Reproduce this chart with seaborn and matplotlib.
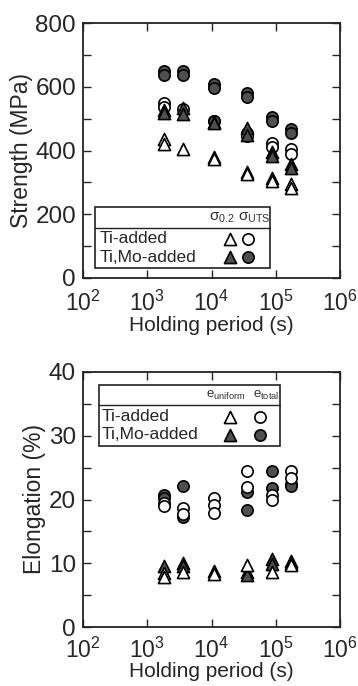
import matplotlib
matplotlib.use('Agg')
import matplotlib.pyplot as plt
import seaborn as sns
import pandas as pd
from matplotlib.ticker import LogLocator, MultipleLocator, NullFormatter, FixedLocator
from matplotlib.patches import Rectangle
from matplotlib.lines import Line2D

sns.set_style('ticks')
plt.rcParams['font.family'] = ['Liberation Sans', 'DejaVu Sans']
plt.rcParams['mathtext.fontset'] = 'custom'
plt.rcParams['mathtext.rm'] = 'Liberation Sans'
plt.rcParams['mathtext.it'] = 'Liberation Sans'

# ---------------- data ----------------
# Strength panel (MPa)
ti_ys_t = [1800, 1800, 3600, 10800, 10800, 36000, 36000, 86400, 86400, 172800, 172800]
ti_ys_v = [435, 420, 404, 381, 372, 333, 326, 313, 305, 295, 281]
ti_uts_t = [1800, 1800, 3600, 10800, 36000, 36000, 86400, 86400, 172800, 172800]
ti_uts_v = [550, 537, 530, 492, 454, 445, 424, 412, 404, 389]
mo_ys_t = [1800, 1800, 3600, 3600, 10800, 10800, 36000, 36000, 86400, 86400, 172800, 172800]
mo_ys_v = [527, 519, 532, 515, 490, 485, 470, 448, 396, 383, 358, 344]
mo_uts_t = [1800, 1800, 3600, 3600, 10800, 10800, 10800, 36000, 36000, 86400, 86400, 172800, 172800]
mo_uts_v = [650, 637, 650, 637, 609, 595, 492, 581, 567, 504, 494, 467, 456]

# Elongation panel (%)
ti_eu_t = [1800, 1800, 3600, 10800, 36000, 86400, 172800, 172800]
ti_eu_v = [8.4, 7.9, 8.7, 8.3, 9.7, 8.7, 10.0, 9.7]
mo_eu_t = [1800, 3600, 3600, 10800, 36000, 36000, 86400, 86400, 172800]
mo_eu_v = [9.6, 10.0, 9.5, 8.8, 8.6, 8.2, 10.6, 9.9, 10.3]
ti_et_t = [1800, 1800, 3600, 3600, 10800, 10800, 10800, 36000, 36000, 86400, 86400, 172800, 172800]
ti_et_v = [19.5, 19.0, 18.6, 17.8, 20.2, 19.1, 17.9, 24.5, 21.9, 20.7, 20.0, 24.4, 23.3]
mo_et_t = [1800, 1800, 3600, 3600, 36000, 36000, 86400, 86400, 172800, 172800]
mo_et_v = [20.7, 20.2, 22.1, 17.2, 21.1, 18.4, 24.4, 21.8, 22.5, 22.1]

xtick_vals = [1e2, 1e3, 1e4, 1e5, 1e6]
xtick_labels = ['$10^2$', '$10^3$', '$10^4$', '$10^5$', '$10^6$']

FILL = '#4f4f4f'
W, H = 358, 686
fig = plt.figure(figsize=(W / 100, H / 100), dpi=100)
ax1 = fig.add_axes([83 / W, 1 - 278 / H, 257 / W, 255 / H])
ax2 = fig.add_axes([83 / W, 1 - 627 / H, 257 / W, 255 / H])

S_CIRC = 66
S_TRI = 76
LW = 1.2


def scat(ax, t, v, marker, filled, z, s):
    df = pd.DataFrame({'t': t, 'v': v})
    sns.scatterplot(data=df, x='t', y='v', ax=ax, marker=marker, s=s,
                    color=FILL if filled else 'white', edgecolor='black',
                    linewidth=LW, zorder=z, legend=False)


# top panel: open first, filled over
scat(ax1, ti_uts_t, ti_uts_v, 'o', False, 3, S_CIRC)
scat(ax1, ti_ys_t, ti_ys_v, '^', False, 3, S_TRI)
scat(ax1, mo_uts_t, mo_uts_v, 'o', True, 4, S_CIRC)
scat(ax1, mo_ys_t, mo_ys_v, '^', True, 5, S_TRI)

# bottom panel: filled first, open over
scat(ax2, mo_et_t, mo_et_v, 'o', True, 3, S_CIRC)
scat(ax2, mo_eu_t, mo_eu_v, '^', True, 3, S_TRI)
scat(ax2, ti_et_t, ti_et_v, 'o', False, 4, S_CIRC)
scat(ax2, ti_eu_t, ti_eu_v, '^', False, 4, S_TRI)

for ax, ylim, ymaj, ymin, ylab, xpad, lpad in [
        (ax1, (0, 800), 200, 100, 'Strength (MPa)', 9, 0),
        (ax2, (0, 40), 10, 5, 'Elongation (%)', 8, -1)]:
    ax.set_xscale('log')
    ax.set_xlim(1e2, 1e6)
    ax.set_ylim(*ylim)
    ax.xaxis.set_major_locator(FixedLocator(xtick_vals))
    ax.set_xticks(xtick_vals)
    ax.set_xticklabels(xtick_labels)
    ax.xaxis.set_minor_locator(LogLocator(base=10, subs=range(2, 10)))
    ax.xaxis.set_minor_formatter(NullFormatter())
    ax.yaxis.set_major_locator(MultipleLocator(ymaj))
    ax.yaxis.set_minor_locator(MultipleLocator(ymin))
    ax.tick_params(axis='both', which='both', direction='in', top=True, right=True)
    ax.tick_params(axis='x', which='major', length=6, width=1.0, labelsize=16.5, pad=xpad)
    ax.tick_params(axis='x', which='minor', length=3, width=0.8)
    ax.tick_params(axis='y', which='major', length=6, width=1.0, labelsize=17.5, pad=5)
    ax.tick_params(axis='y', which='minor', length=6, width=1.0)
    for sp in ax.spines.values():
        sp.set_linewidth(1.3)
        sp.set_color('#222222')
    ax.set_xlabel('Holding period (s)', fontsize=15, labelpad=lpad)
    ax.set_ylabel(ylab, fontsize=16.5, labelpad=2)


def legend_box(ax, x0, x1, y0, y1, yline, hdr, hx, hy, rows_y, tx, mx_tri, mx_circ, hfs):
    ax.add_patch(Rectangle((x0, y0), x1 - x0, y1 - y0, transform=ax.transAxes,
                           facecolor='white', edgecolor='#222222', lw=1.2, zorder=10))
    ax.add_line(Line2D([x0, x1], [yline, yline], transform=ax.transAxes,
                       color='#222222', lw=1.0, zorder=11))
    for h, x in zip(hdr, hx):
        ax.text(x, hy, h, transform=ax.transAxes, fontsize=hfs, ha='center',
                va='center', zorder=12, color='#333333')
    for (label, filled), y in zip([('Ti-added', False), ('Ti,Mo-added', True)], rows_y):
        ax.text(tx, y, label, transform=ax.transAxes, fontsize=12.5, ha='left',
                va='center', zorder=12)
        fc = FILL if filled else 'white'
        ax.scatter([mx_tri], [y], transform=ax.transAxes, marker='^', s=S_TRI,
                   facecolor=fc, edgecolor='black', linewidth=LW, zorder=12,
                   clip_on=False)
        ax.scatter([mx_circ], [y], transform=ax.transAxes, marker='o', s=S_CIRC,
                   facecolor=fc, edgecolor='black', linewidth=LW, zorder=12,
                   clip_on=False)


legend_box(ax1, 0.047, 0.728, 0.039, 0.278, 0.196,
           [r'$\sigma_{0.2}$', r'$\sigma_{\rm UTS}$'], [0.540, 0.665], 0.237,
           [0.153, 0.082], 0.066, 0.572, 0.642, 11)
legend_box(ax2, 0.062, 0.767, 0.710, 0.949, 0.871,
           [r'$e_{\rm uniform}$', r'$e_{\rm total}$'], [0.555, 0.712], 0.908,
           [0.824, 0.753], 0.074, 0.572, 0.689, 9.5)

fig.savefig('out.png', dpi=100)
